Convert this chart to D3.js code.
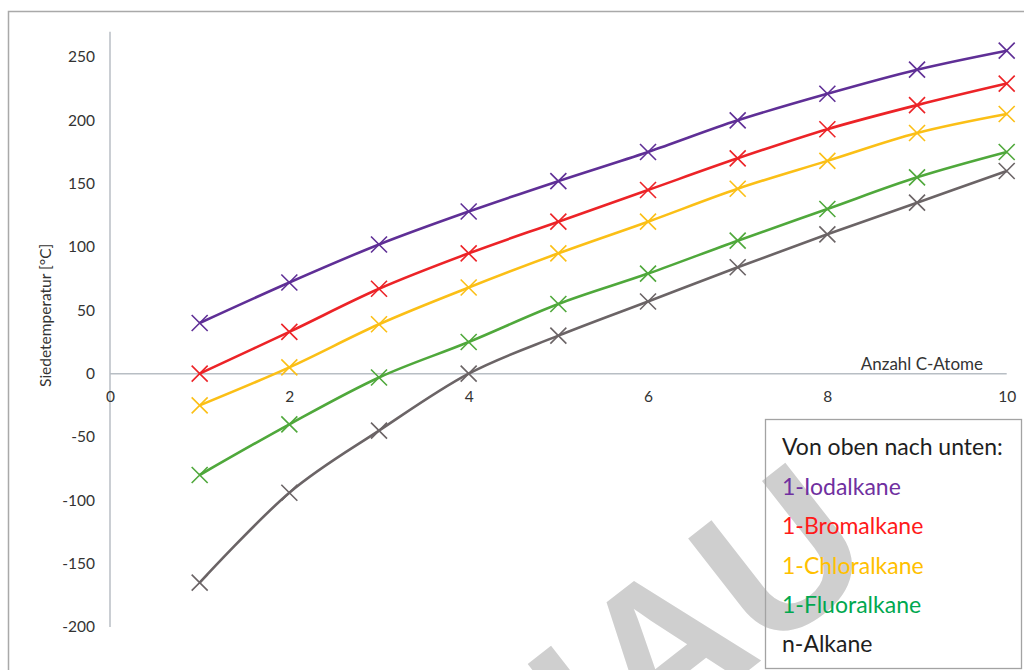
<!DOCTYPE html>
<html><head><meta charset="utf-8">
<script src="https://cdn.jsdelivr.net/npm/d3@7"></script>
<style>
html,body{margin:0;padding:0;background:#fff;}
svg{display:block;}
</style></head>
<body>
<svg id="chart" width="1024" height="670"></svg>
<script>
// ---- data ----
const carbonAtoms = [1,2,3,4,5,6,7,8,9,10];
const iodalkane   = [40, 72, 102, 128, 152, 175, 200, 221, 240, 255];
const bromalkane  = [0, 33, 67, 95, 120, 145, 170, 193, 212, 229];
const chloralkane = [-25, 5, 39, 68, 95, 120, 146, 168, 190, 205];
const fluoralkane = [-80, -40, -3, 25, 55, 79, 105, 130, 155, 175];
const nAlkane     = [-165, -94, -45, 0, 30, 57, 84, 110, 135, 160];
const seriesNames = ["1-Iodalkane","1-Bromalkane","1-Chloralkane","1-Fluoralkane","n-Alkane"];
const yTicks = [-200,-150,-100,-50,0,50,100,150,200,250];
const xTicks = [0,2,4,6,8,10];
const xTitle = "Anzahl C-Atome";
const yTitle = "Siedetemperatur [°C]";
const legendTitle = "Von oben nach unten:";
const watermark = "VORSCHAU";

// ---- styling ----
const lineColors = ["#5f2f96","#ec2327","#fbbf16","#4fa83b","#6b6466"];
const textColors = ["#7030a0","#ff1a1a","#ffc000","#00a84f","#1e1e1e"];
const allSeries = [iodalkane, bromalkane, chloralkane, fluoralkane, nAlkane];

const svg = d3.select("#chart");
const x = d3.scaleLinear().domain([0,10]).range([110,1006.7]);
const y = d3.scaleLinear().domain([-200,250]).range([627,57]);
const yAxisTop = 270;

// outer frame
svg.append("path").attr("d","M8.5,670 L8.5,11.5 L1024,11.5")
  .attr("fill","none").attr("stroke","#a9a9a9").attr("stroke-width",1.5);

// y axis
const yAxis = d3.axisLeft(y).tickValues(yTicks).tickSize(0).tickPadding(15).tickFormat(d=>String(d));
const gy = svg.append("g").attr("transform",`translate(${x(0)},0)`).call(yAxis);
gy.select(".domain").remove();
gy.selectAll("text").attr("font-family","Lato, sans-serif").attr("font-size",15.5).attr("fill","#333");
svg.append("line").attr("x1",x(0)).attr("x2",x(0)).attr("y1",y(-200)).attr("y2",y(yAxisTop))
  .attr("stroke","#b8bec4").attr("stroke-width",1.5);

// x axis (at zero)
const xAxis = d3.axisBottom(x).tickValues(xTicks).tickSize(0).tickPadding(17).tickFormat(d=>String(d));
const gx = svg.append("g").attr("transform",`translate(0,${y(0)})`).call(xAxis);
gx.select(".domain").remove();
gx.selectAll("text").attr("font-family","Lato, sans-serif").attr("font-size",15.5).attr("fill","#333");
svg.append("line").attr("x1",x(0)).attr("x2",x(10)).attr("y1",y(0)).attr("y2",y(0))
  .attr("stroke","#b8bec4").attr("stroke-width",1.5);

// axis titles
svg.append("text").attr("x",983).attr("y",y(0)-4).attr("text-anchor","end")
  .attr("font-family","Lato, sans-serif").attr("font-size",17).attr("fill","#333").text(xTitle);
svg.append("text").attr("transform",`translate(51,${y(50)+5}) rotate(-90)`).attr("text-anchor","middle")
  .attr("font-family","Lato, sans-serif").attr("font-size",15.5).attr("fill","#333").text(yTitle);

// series
const line = d3.line().x((d,i)=>x(carbonAtoms[i])).y(d=>y(d)).curve(d3.curveCatmullRom.alpha(0));
const gs = svg.append("g");
allSeries.slice().reverse().forEach((vals, ri) => {
  const k = allSeries.length-1-ri;
  gs.append("path").attr("d", line(vals)).attr("fill","none")
    .attr("stroke", lineColors[k]).attr("stroke-width",2.6).attr("stroke-linejoin","round");
  gs.selectAll(null).data(vals).enter().append("path")
    .attr("transform",(d,i)=>`translate(${x(carbonAtoms[i])},${y(d)})`)
    .attr("d","M-8,-8L8,8M-8,8L8,-8")
    .attr("stroke", lineColors[k]).attr("stroke-width",1.6).attr("fill","none");
});

// watermark
svg.append("text").attr("transform","translate(882,566) rotate(-38)")
  .attr("text-anchor","end").attr("font-family","Liberation Sans, Arial, sans-serif")
  .attr("font-weight","bold").attr("font-size",205).attr("fill","#cfcfcf").text(watermark);

// legend
const lg = svg.append("g");
lg.append("rect").attr("x",765.5).attr("y",419.5).attr("width",256).attr("height",249)
  .attr("fill","none").attr("stroke","#a3a3a3").attr("stroke-width",1.3);
lg.append("text").attr("x",782).attr("y",455).attr("font-family","Lato, sans-serif")
  .attr("font-size",23).attr("fill","#1e1e1e").text(legendTitle);
seriesNames.forEach((n,i)=>{
  lg.append("text").attr("x",782).attr("y",495+i*39.3).attr("font-family","Lato, sans-serif")
    .attr("font-size",23).attr("fill",textColors[i]).text(n);
});
</script>
</body></html>
